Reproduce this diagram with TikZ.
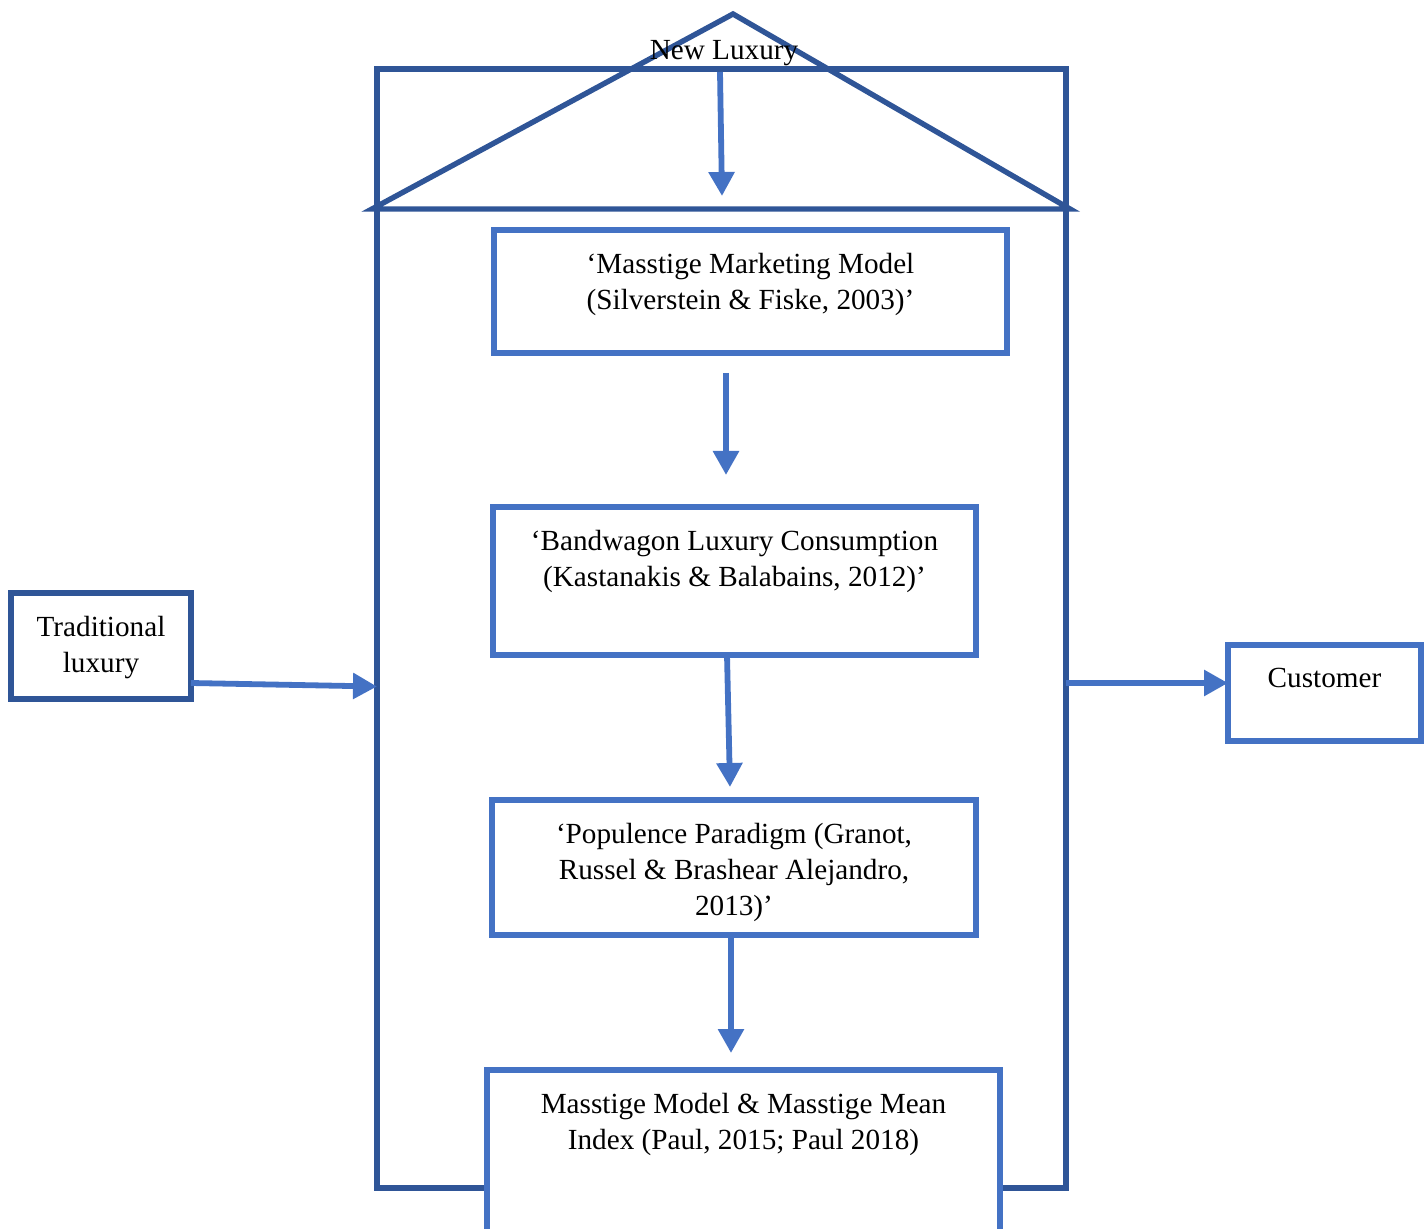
\documentclass[tikz,border=0pt]{standalone}
\usepackage{fontspec}
\setmainfont{Liberation Serif}
\usepackage{xcolor}
\usepackage{tikz}
\usetikzlibrary{arrows.meta,positioning,calc}
\definecolor{darkblue}{HTML}{2F5597}
\definecolor{lightblue}{HTML}{4472C4}
\tikzset{
    house/.style={rectangle, draw=darkblue, line width=2.7pt, minimum width=344.5pt, minimum height=559.5pt, inner sep=0, outer sep=0},
    stage/.style={rectangle, draw=lightblue, line width=2.7pt, fill=white, inner sep=0, outer sep=0},
    side/.style={rectangle, draw=darkblue, line width=3.3pt, fill=white, inner sep=0, outer sep=0},
    txt/.style={align=center, inner sep=0, font=\fontsize{14.6}{18}\selectfont},
    roof/.style={draw=darkblue, line width=2.7pt, line join=miter},
    flow/.style={draw=lightblue, line width=2.9pt, -{Triangle[length=12pt,width=12.5pt]}},
}
\begin{document}
\begin{tikzpicture}[x=0.5pt, y=-0.5pt]
    \useasboundingbox (0,0) rectangle (1428,1229);

    \node[house, anchor=north west] (house) at (377,69) {};
    \coordinate (eaveL) at (372,209);
    \coordinate (apex) at (733,14);
    \coordinate (eaveR) at (1070,209);
    \draw[roof] (eaveL) -- (apex) -- (eaveR) -- cycle;
    \node[txt] (newlux) at (724,53) {New Luxury};
    \coordinate (roofbase) at (722,196);

    \node[stage, anchor=north west, minimum width=256.5pt, minimum height=61.5pt] (b1) at (494,230) {};
    \node[stage, anchor=north west, minimum width=241.5pt, minimum height=74pt] (b2) at (493,507) {};
    \node[stage, anchor=north west, minimum width=242pt, minimum height=67.5pt] (b3) at (492,800) {};
    \node[stage, anchor=north west, minimum width=256.5pt, minimum height=88pt] (b4) at (487,1070) {};
    \node[side, anchor=north west, minimum width=90pt, minimum height=53pt] (trad) at (11,593) {};
    \node[stage, anchor=north west, minimum width=96.5pt, minimum height=48pt] (cust) at (1228,645) {};

    \node[txt, below=11.5pt of b1.north] (b1t) {‘Masstige Marketing Model\\(Silverstein \& Fiske, 2003)’};
    \node[txt, below=11.5pt of b2.north] (b2t) {‘Bandwagon Luxury Consumption\\(Kastanakis \& Balabains, 2012)’};
    \node[txt, below=11.5pt of b3.north] (b3t) {‘Populence Paradigm (Granot,\\Russel \& Brashear Alejandro,\\2013)’};
    \node[txt, below=11.5pt of b4.north] (b4t) {Masstige Model \& Masstige Mean\\Index (Paul, 2015; Paul 2018)};
    \node[txt, below=11.5pt of trad.north] (tradt) {Traditional\\luxury};
    \node[txt, below=11.5pt of cust.north] (custt) {Customer};

    \draw[flow] ([xshift=-0.75pt,yshift=-1.5pt]house.north) -- (roofbase);
    \draw[flow] ([xshift=-12.25pt,yshift=-10pt]b1.south) -- ([xshift=-4.25pt,yshift=16pt]b2.north);
    \draw[flow] ([xshift=-3.75pt]b2.south) -- ([xshift=-2pt,yshift=6.5pt]b3.north);
    \draw[flow] ([xshift=-1.5pt]b3.south) -- ([xshift=-6.25pt,yshift=8.5pt]b4.north);
    \draw[flow] ([yshift=8pt]trad.south east) -- ([yshift=-29pt]house.west);
    \draw[flow] ([yshift=-27.25pt]house.east) -- ([yshift=5pt]cust.west);
\end{tikzpicture}
\end{document}
